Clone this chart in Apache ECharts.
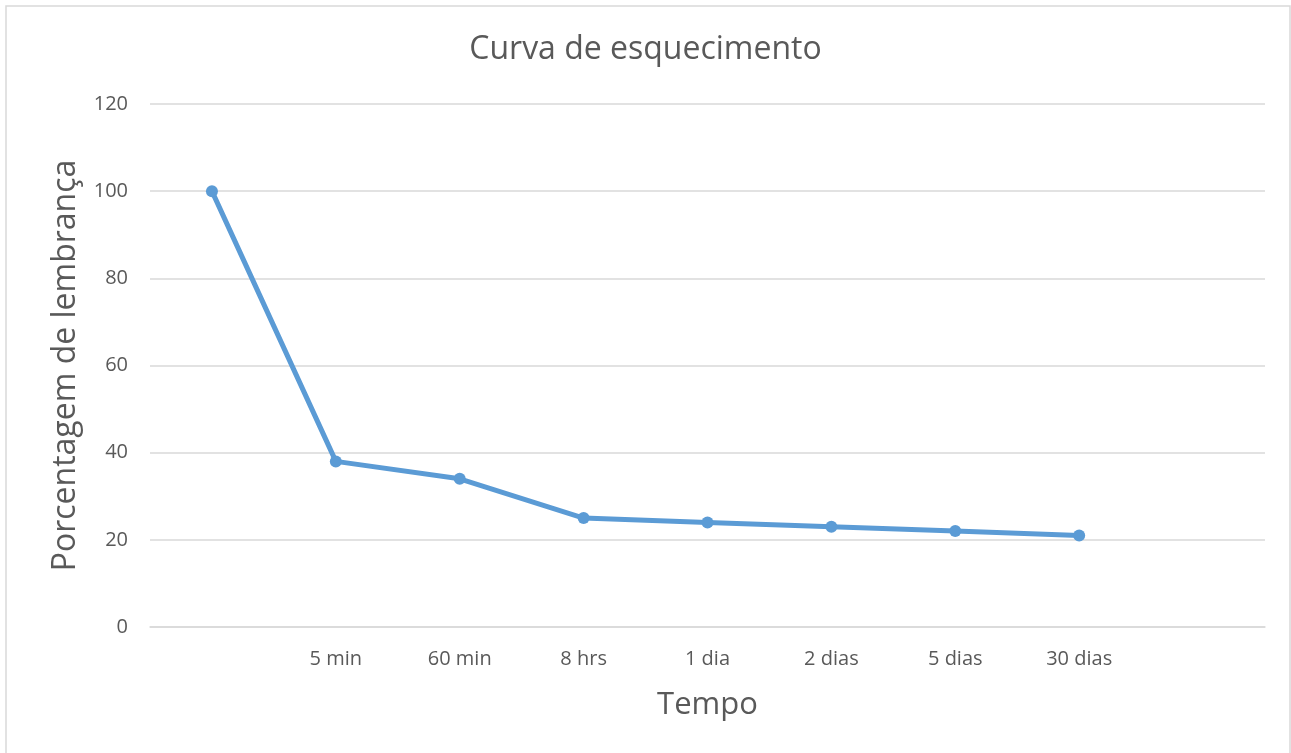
<!DOCTYPE html>
<html>
<head>
<meta charset="utf-8">
<title>Curva de esquecimento</title>
<script src="https://cdn.jsdelivr.net/npm/echarts@6/dist/echarts.min.js"></script>
<style>
  html, body { margin: 0; padding: 0; background: #fff; }
  #chart { width: 1291px; height: 753px; }
</style>
</head>
<body>
<div id="chart"></div>
<script>
// Time points after learning (first and last slots are left blank)
const categories = ['', '5 min', '60 min', '8 hrs', '1 dia', '2 dias', '5 dias', '30 dias', ''];
// Percentage of material remembered at each time point
const retention = [100, 38, 34, 25, 24, 23, 22, 21, null];
// Y-axis range
const yTicks = { min: 0, max: 120, step: 20 };

const textColor = '#595959';
const gridColor = '#d9d9d9';
const font = '"Open Sans", "Noto Sans", sans-serif';

const chart = echarts.init(document.getElementById('chart'));
chart.setOption({
  backgroundColor: '#fff',
  animation: false,
  graphic: [{
    type: 'rect',
    shape: { x: 6, y: 6, width: 1284, height: 770 },
    style: { fill: 'none', stroke: gridColor, lineWidth: 1.5 },
    silent: true
  }],
  title: {
    text: 'Curva de esquecimento',
    left: 'center',
    top: 29,
    textStyle: { color: textColor, fontSize: 32, fontWeight: 'normal', fontFamily: font }
  },
  grid: { left: 150, right: 26, top: 104, bottom: 126, containLabel: false },
  xAxis: {
    type: 'category',
    data: categories,
    boundaryGap: true,
    name: 'Tempo',
    nameLocation: 'middle',
    nameGap: 63,
    nameTextStyle: { color: textColor, fontSize: 31, fontFamily: font },
    axisLine: { show: true, lineStyle: { color: gridColor, width: 1.5 } },
    axisTick: { show: false },
    axisLabel: { color: textColor, fontSize: 20, margin: 22, fontFamily: font, interval: 0 },
    splitLine: { show: false }
  },
  yAxis: {
    type: 'value',
    min: yTicks.min,
    max: yTicks.max,
    interval: yTicks.step,
    name: 'Porcentagem de lembrança',
    nameLocation: 'middle',
    nameGap: 68,
    nameRotate: 90,
    nameTextStyle: { color: textColor, fontSize: 32, fontFamily: font },
    axisLine: { show: false },
    axisTick: { show: false },
    axisLabel: { color: textColor, fontSize: 20, margin: 22, fontFamily: font },
    splitLine: { show: true, lineStyle: { color: gridColor, width: 1.5 } }
  },
  series: [{
    type: 'line',
    data: retention,
    symbol: 'circle',
    symbolSize: 12,
    connectNulls: false,
    lineStyle: { color: '#5b9bd5', width: 5 },
    itemStyle: { color: '#5b9bd5' }
  }]
});
</script>
</body>
</html>
